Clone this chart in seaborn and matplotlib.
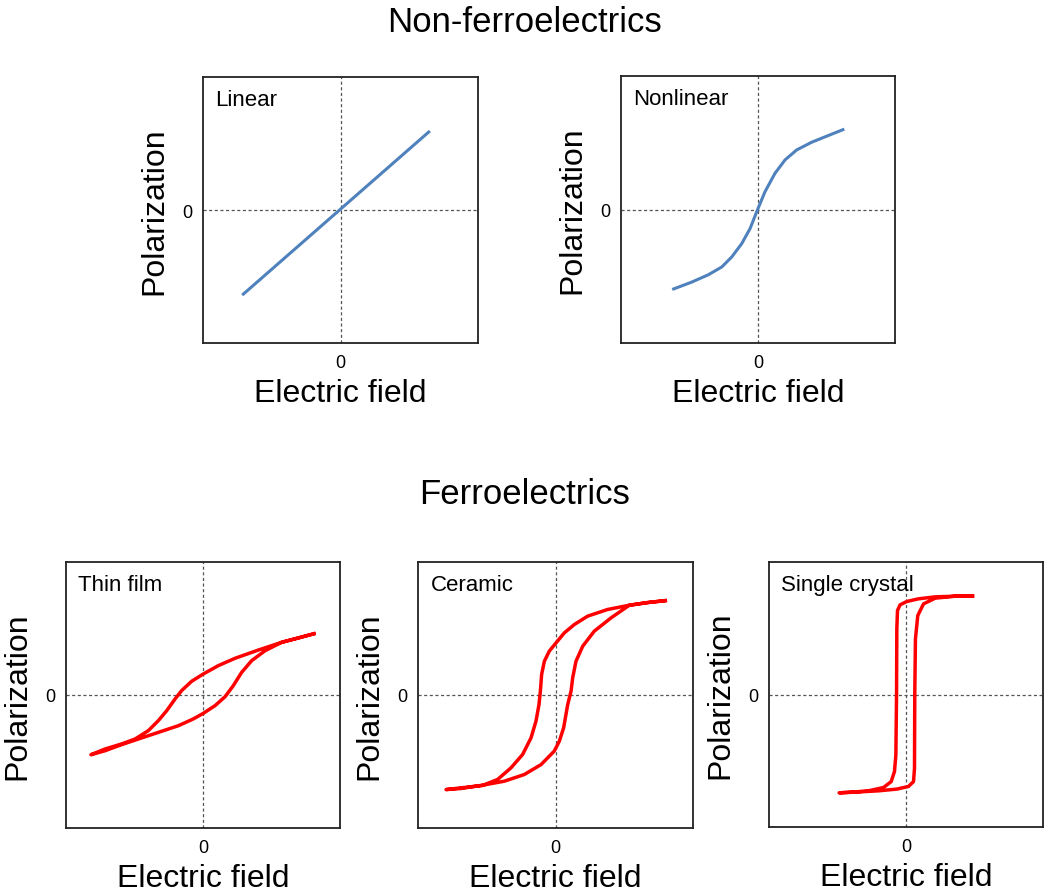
import numpy as np
import pandas as pd
import seaborn as sns
import matplotlib
matplotlib.use("Agg")
import matplotlib.pyplot as plt

# ---- data (field, polarization; axes span -1..1) ----
linear_E = [-0.715, 0.65]
linear_P = [-0.64, 0.594]

nonlin_E = [-0.626, -0.484, -0.363, -0.265, -0.192, -0.119, -0.058, -0.002, 0.051, 0.124,
            0.197, 0.282, 0.392, 0.513, 0.630]
nonlin_P = [-0.599, -0.544, -0.489, -0.431, -0.356, -0.256, -0.143, 0.002, 0.133, 0.271,
            0.371, 0.446, 0.504, 0.554, 0.602]

# loops: upper (descending) branch followed by lower (ascending) branch
film_E = [0.822, 0.696, 0.574, 0.404, 0.234, 0.112, 0.002, -0.083, -0.156, -0.204, -0.265,
          -0.326, -0.399, -0.496, -0.594, -0.715, -0.818,
          -0.715, -0.594, -0.472, -0.326, -0.180, -0.071, 0.002, 0.088, 0.161, 0.221,
          0.282, 0.355, 0.453, 0.574, 0.696, 0.822]
film_P = [0.464, 0.429, 0.396, 0.338, 0.276, 0.221, 0.158, 0.103, 0.033, -0.030, -0.118,
          -0.193, -0.268, -0.331, -0.368, -0.406, -0.449,
          -0.419, -0.373, -0.331, -0.281, -0.231, -0.180, -0.138, -0.080, -0.013, 0.070,
          0.170, 0.258, 0.333, 0.396, 0.429, 0.464]

ceramic_E = [0.811, 0.670, 0.537, 0.379, 0.234, 0.137, 0.064, 0.004, -0.045, -0.081, -0.101,
             -0.110, -0.120, -0.142, -0.178, -0.239, -0.324, -0.421, -0.530, -0.687, -0.796,
             -0.687, -0.530, -0.372, -0.227, -0.105, -0.009, 0.028, 0.059, 0.089, 0.113,
             0.125, 0.149, 0.198, 0.282, 0.404, 0.537, 0.670, 0.811]
ceramic_P = [0.711, 0.695, 0.675, 0.643, 0.593, 0.530, 0.467, 0.392, 0.330, 0.254, 0.154,
             0.029, -0.071, -0.197, -0.322, -0.447, -0.548, -0.635, -0.680, -0.698, -0.711,
             -0.703, -0.678, -0.648, -0.598, -0.523, -0.422, -0.347, -0.247, -0.071, 0.029,
             0.129, 0.254, 0.367, 0.480, 0.580, 0.675, 0.695, 0.711]

crystal_E = [0.498, 0.359, 0.213, 0.091, 0.006, -0.043, -0.062, -0.067, -0.069, -0.074,
             -0.084, -0.108, -0.164, -0.274, -0.395, -0.488,
             -0.371, -0.201, -0.067, 0.018, 0.055, 0.062, 0.064, 0.069, 0.086, 0.128,
             0.213, 0.359, 0.498]
crystal_P = [0.742, 0.742, 0.737, 0.722, 0.702, 0.677, 0.634, 0.496, 0.0, -0.456,
             -0.581, -0.657, -0.702, -0.727, -0.737, -0.742,
             -0.737, -0.727, -0.714, -0.694, -0.657, -0.556, 0.0, 0.421, 0.596, 0.684,
             0.727, 0.742, 0.742]

panel_names = ["Linear", "Nonlinear", "Thin film", "Ceramic", "Single crystal"]
panel_E = [linear_E, nonlin_E, film_E, ceramic_E, crystal_E]
panel_P = [linear_P, nonlin_P, film_P, ceramic_P, crystal_P]
panel_colors = ["#4F81BD", "#4F81BD", "#FF0000", "#FF0000", "#FF0000"]
panel_lw = [2.2, 2.2, 2.5, 2.5, 2.5]

sns.set_style("white")
plt.rcParams["font.family"] = ["Liberation Sans", "DejaVu Sans"]
plt.rcParams["text.color"] = "black"
plt.rcParams["axes.labelcolor"] = "black"
plt.rcParams["xtick.color"] = "black"
plt.rcParams["ytick.color"] = "black"

W, H = 1050, 895
fig = plt.figure(figsize=(W / 100, H / 100), dpi=100)

# axes boxes in pixels: left, top, right, bottom
boxes = [(203, 78, 478, 344), (621, 77, 895, 344),
         (66, 563, 340, 829), (418, 563, 693, 829), (769, 563, 1043, 828)]

for i, (l, t, r, b) in enumerate(boxes):
    ax = fig.add_axes([l / W, 1 - b / H, (r - l) / W, (b - t) / H])
    df = pd.DataFrame({"E": panel_E[i], "P": panel_P[i]})
    sns.lineplot(data=df, x="E", y="P", sort=False, estimator=None, ax=ax,
                 color=panel_colors[i], lw=panel_lw[i], solid_joinstyle="round",
                 solid_capstyle="butt")
    ax.axhline(0, color="#555555", lw=0.9, ls=(0, (2.5, 2)), zorder=0)
    ax.axvline(0, color="#555555", lw=0.9, ls=(0, (2.5, 2)), zorder=0)
    ax.set_xlim(-1, 1)
    ax.set_ylim(-1, 1)
    ax.set_xticks([0])
    ax.set_yticks([0])
    ax.tick_params(length=0, labelsize=13, pad=8)
    ax.set_xlabel("Electric field", fontsize=23, labelpad=5)
    ax.set_ylabel("Polarization", fontsize=23, labelpad=9)
    for s in ax.spines.values():
        s.set_color("#222222")
        s.set_linewidth(1.3)
    ax.text(0.045, 0.955, panel_names[i], transform=ax.transAxes, fontsize=16,
            ha="left", va="top")

fig.text(0.5, 1 - 22 / H, "Non-ferroelectrics", fontsize=25, ha="center", va="center")
fig.text(0.5, 1 - 495 / H, "Ferroelectrics", fontsize=25, ha="center", va="center")

fig.savefig("out.png", dpi=100, facecolor="white")
